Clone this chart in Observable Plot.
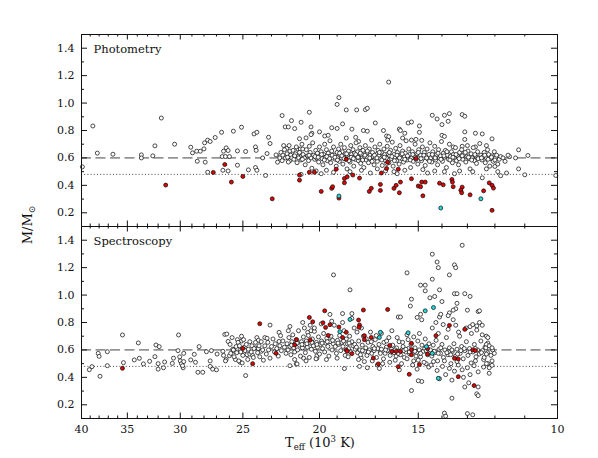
<!DOCTYPE html>
<html><head><meta charset="utf-8">
<script src="https://cdn.jsdelivr.net/npm/d3@7"></script>
<script src="https://cdn.jsdelivr.net/npm/@observablehq/plot@0.6"></script>
<style>body{margin:0;background:#fff;}</style>
</head><body><div id="chart"></div>
<script>
// ---------- data (T_eff in 10^3 K, mass in solar masses) ----------
const panels = ["Photometry", "Spectroscopy"];
const dashedLevel = 0.6;
const dottedLevel = 0.48;
const xMajorTicks = [40, 35, 30, 25, 20, 15, 10];
const xMinorTicks = [39,38,37,36,34,33,32,31,29,28,27,26,24,23,22,21,19,18,17,16,14,13,12,11];
const yMajorTicks = [0.2, 0.4, 0.6, 0.8, 1.0, 1.2, 1.4];
const yMinorTicks = [0.1, 0.3, 0.5, 0.7, 0.9, 1.1, 1.3, 1.5];

const photometryWhite = [
[39.9,0.535],[38.7,0.833],[38.2,0.635],[36.5,0.627],[33.6,0.622],[33.6,0.60],[32.5,0.615],[32.3,0.688],[31.7,0.891],[30.5,0.70],
[29.1,0.678],[28.95,0.637],[28.6,0.649],[28.3,0.649],[28.0,0.666],[27.95,0.71],[27.7,0.73],[27.5,0.72],[28.55,0.576],[27.9,0.569],
[27.7,0.496],[27.1,0.749],[26.6,0.787],[26.5,0.51],[26.1,0.505],[26.55,0.61],[26.3,0.61],[26.0,0.61],[26.45,0.649],[26.25,0.673],
[26.1,0.654],[25.7,0.795],[25.4,0.651],[25.4,0.547],[25.1,0.824],[24.6,0.513],[24.8,0.647],[24.2,0.775],[24.0,0.787],[24.1,0.68],
[24.05,0.655],[24.1,0.53],[24.0,0.51],[23.6,0.60],[23.3,0.632],[23.2,0.751],[23.1,0.705],[23.4,0.472],[22.7,0.622],[22.4,0.622],
[22.6,0.569],[22.3,0.909],[21.7,0.872],[22.1,0.826],[21.9,0.826],[22.2,0.69],[22.0,0.67],[21.8,0.65],[21.8,0.61],[21.8,0.58],
[21.5,0.814],[21.3,0.665],[21.15,0.665],[21.0,0.665],[21.3,0.61],[21.1,0.61],[20.95,0.615],[21.1,0.86],[21.2,0.74],[20.8,0.746],
[21.1,0.48],[20.6,0.933],[20.5,0.826],[20.45,0.78],[20.5,0.77],[20.0,0.79],[19.7,0.76],[19.5,0.765],[19.3,0.82],[19.0,0.815],
[19.0,0.99],[18.9,1.04],[18.7,0.848],[18.5,0.95],[18.2,0.81],[17.95,0.95],[16.35,1.153],[17.5,0.952],[17.4,0.962],[17.0,0.855],
[15.45,0.855],[15.3,0.862],[14.95,0.833],[14.4,0.911],[14.2,0.884],[14.0,0.843],[13.9,0.911],[13.7,0.923],[13.75,0.867],[13.2,0.916],
[13.1,0.904],[15.85,0.81],[15.8,0.80],[16.6,0.80],[17.6,0.80],[17.4,0.795],[14.95,0.787],[13.1,0.79],[12.7,0.78],[12.45,0.775],
[16.45,0.76],[16.35,0.755],[16.4,0.73],[15.7,0.745],[15.6,0.78],[15.3,0.73],[15.1,0.735],[14.85,0.728],[14.0,0.765],[13.9,0.757],
[13.55,0.68],[13.2,0.685],[13.0,0.69],[12.7,0.68],[12.3,0.69],[18.0,0.75],[17.85,0.72],[12.45,0.455],
[11.2,0.659],[11.5,0.61],[11.3,0.60],[10.9,0.618],[11.9,0.50],[11.8,0.47],[11.6,0.49],[11.0,0.477],[11.2,0.52],[10.05,0.472],[12.1,0.739],[12.0,0.538],
[22.45,0.60],[22.38,0.64],[22.3,0.58],[22.25,0.62],[22.15,0.66],[22.08,0.60],[21.98,0.63],[21.9,0.57],[21.85,0.69],[21.75,0.62],
[21.68,0.60],[21.6,0.655],[21.55,0.59],[21.45,0.63],[21.4,0.68],[21.35,0.565],[21.25,0.6],[21.2,0.64],[21.1,0.585],[21.05,0.70],
[20.98,0.625],[20.9,0.60],[20.85,0.55],[20.78,0.66],[20.7,0.615],[20.65,0.58],[20.6,0.685],[20.55,0.64],[20.5,0.60],[20.45,0.525],
[20.4,0.71],[20.35,0.62],
[20.28,0.59],[20.22,0.655],[20.18,0.60],[20.12,0.635],[20.05,0.57],[20.0,0.68],[19.95,0.61],[19.9,0.645],[19.85,0.595],[19.8,0.55],
[19.76,0.625],[19.7,0.70],[19.66,0.605],[19.6,0.66],[19.55,0.58],[19.5,0.635],[19.45,0.61],[19.4,0.725],[19.36,0.565],[19.3,0.65],
[19.26,0.60],[19.2,0.68],[19.15,0.62],[19.1,0.59],[19.05,0.54],[19.0,0.64],[18.96,0.605],[18.92,0.665],[18.88,0.575],[18.84,0.62],
[18.8,0.70],[18.76,0.60],[18.72,0.645],[18.68,0.555],[18.64,0.61],[18.6,0.675],[18.56,0.63],[18.52,0.59],[18.5,0.745],[18.46,0.52],
[18.42,0.615],[18.38,0.65],[18.34,0.60],[18.3,0.57],[18.26,0.69],[18.22,0.625],[18.18,0.605],[18.14,0.66],[18.1,0.54],[18.06,0.635],
[18.02,0.59],[17.98,0.71],[17.94,0.615],[17.9,0.645],[17.86,0.58],[17.82,0.60],[17.78,0.675],[17.74,0.56],[17.7,0.625],[17.66,0.60],
[17.62,0.655],[17.58,0.53],[17.54,0.61],[17.5,0.69],[17.46,0.585],[17.42,0.635],[17.38,0.605],[17.34,0.565],[17.3,0.665],[17.26,0.62],
[17.22,0.595],[17.18,0.73],[17.14,0.64],[17.1,0.61],[17.06,0.55],[17.02,0.68],[16.98,0.60],[16.94,0.625],[16.9,0.575],[16.86,0.655],
[16.82,0.615],[16.78,0.70],[16.74,0.595],[16.7,0.64],[16.66,0.545],[16.62,0.61],[16.58,0.665],[16.54,0.625],[16.5,0.58],
[16.46,0.60],[16.42,0.685],[16.38,0.63],[16.34,0.565],[16.3,0.615],[16.26,0.655],[16.22,0.595],[16.18,0.715],[16.14,0.54],[16.1,0.625],
[16.06,0.60],[16.02,0.67],[15.98,0.58],[15.94,0.64],[15.9,0.61],[15.86,0.555],[15.82,0.69],[15.78,0.62],[15.74,0.595],[15.7,0.65],
[15.66,0.57],[15.62,0.61],[15.58,0.635],[15.54,0.725],[15.5,0.585],[15.46,0.605],[15.42,0.665],[15.38,0.625],[15.34,0.53],[15.3,0.60],
[15.26,0.645],[15.22,0.575],[15.18,0.615],[15.14,0.70],[15.1,0.59],[15.06,0.63],[15.02,0.555],[14.98,0.66],[14.94,0.605],[14.9,0.62],
[14.86,0.58],[14.82,0.68],[14.78,0.60],[14.74,0.64],[14.7,0.545],[14.66,0.615],[14.62,0.665],[14.58,0.59],[14.54,0.625],[14.5,0.71],
[14.46,0.60],[14.42,0.57],[14.38,0.645],[14.34,0.61],[14.3,0.685],[14.26,0.585],[14.22,0.625],[14.18,0.55],[14.14,0.66],[14.1,0.60],
[14.06,0.615],[14.02,0.72],[13.98,0.575],[13.94,0.635],[13.9,0.605],[13.86,0.655],[13.82,0.53],[13.78,0.62],[13.74,0.59],[13.7,0.70],
[13.66,0.61],[13.62,0.645],[13.58,0.565],[13.54,0.625],[13.5,0.60],[13.46,0.675],[13.42,0.58],[13.38,0.615],[13.34,0.55],[13.3,0.64],
[13.26,0.605],[13.22,0.66],[13.18,0.59],[13.14,0.625],[13.1,0.735],[13.06,0.57],[13.02,0.61],[12.98,0.65],[12.94,0.595],[12.9,0.52],
[12.86,0.63],[12.82,0.60],[12.78,0.675],[12.74,0.58],[12.7,0.615],[12.66,0.56],[12.62,0.645],[12.58,0.60],[12.54,0.705],[12.5,0.62],
[12.46,0.585],[12.42,0.61],[12.38,0.64],[12.34,0.565],[12.3,0.60],[12.26,0.66],[12.22,0.625],[12.18,0.54],[12.14,0.595],[12.1,0.615],
[12.06,0.575],[12.02,0.645],[11.98,0.60],[11.94,0.62],[11.9,0.555],[11.85,0.59],[11.8,0.61],[11.72,0.60],[11.65,0.575],[11.55,0.62],
[21.95,0.605],[21.5,0.615],[21.02,0.59],[20.62,0.62],[20.26,0.61],[20.08,0.605],[19.88,0.625],[19.72,0.585],[19.58,0.61],[19.42,0.595],
[19.28,0.62],[19.12,0.605],[18.98,0.585],[18.86,0.635],[18.74,0.615],[18.62,0.595],[18.48,0.63],[18.36,0.58],[18.24,0.605],[18.12,0.595],
[18.0,0.625],[17.88,0.605],[17.76,0.635],[17.64,0.585],[17.52,0.62],[17.4,0.65],[17.28,0.60],[17.16,0.575],[17.04,0.62],[16.92,0.60],
[16.8,0.64],[16.68,0.585],[16.56,0.605],[16.44,0.56],[16.32,0.64],[16.2,0.61],[16.08,0.58],[15.96,0.62],[15.84,0.60],[15.72,0.63],
[15.6,0.59],[15.48,0.615],[15.36,0.585],[15.24,0.625],[15.12,0.605],[15.0,0.64],[14.88,0.595],[14.76,0.62],[14.64,0.60],[14.52,0.575],
[14.4,0.625],[14.28,0.60],[14.16,0.635],[14.04,0.59],[13.92,0.615],[13.8,0.645],[13.68,0.585],[13.56,0.605],[13.44,0.625],[13.32,0.595],
[13.2,0.615],[13.08,0.64],[12.96,0.605],[12.84,0.585],[12.72,0.625],[12.6,0.595],[12.48,0.60],[12.36,0.62],[12.24,0.59],[12.12,0.605],[12.0,0.585],
[20.2,0.505],[19.6,0.51],[19.2,0.495],[18.3,0.50],[17.7,0.51],[16.9,0.52],[16.1,0.50],[15.6,0.51],[14.8,0.515],[14.3,0.505],
[13.9,0.50],[13.3,0.505],[12.8,0.50],[12.3,0.52],[17.25,0.49],[15.95,0.485],[14.6,0.49],[13.5,0.485],[16.5,0.505],[19.9,0.485]
];
const photometryRed = [
[31.3,0.402],[27.25,0.494],[26.35,0.552],[25.85,0.424],[25.0,0.465],[22.95,0.302],[21.2,0.475],[21.2,0.438],[20.6,0.496],[20.3,0.496],
[19.9,0.356],[19.3,0.378],[19.25,0.39],[18.9,0.307],[19.05,0.518],[18.6,0.419],[18.6,0.45],[18.45,0.462],[18.15,0.475],[18.5,0.59],
[17.8,0.453],[17.3,0.356],[17.2,0.378],[16.75,0.407],[16.75,0.363],[16.7,0.49],[16.45,0.523],[16.4,0.569],[16.1,0.378],[16.0,0.40],
[15.85,0.346],[15.8,0.424],[15.9,0.518],[15.3,0.448],[15.1,0.596],[15.0,0.395],[14.9,0.39],[14.85,0.424],[14.7,0.424],[14.8,0.324],
[14.1,0.416],[13.95,0.404],[13.6,0.443],[13.58,0.424],[13.55,0.39],[13.2,0.387],[13.25,0.365],[13.22,0.346],[12.9,0.331],[12.4,0.36],
[12.2,0.418],[12.1,0.40],[12.05,0.38],[12.1,0.218]
];
const photometryCyan = [[18.9,0.322],[14.05,0.235],[12.5,0.302]];

const spectroscopyWhite = [
[39.1,0.456],[38.8,0.478],[38.1,0.575],[38.0,0.553],[37.9,0.408],[37.1,0.587],[37.1,0.485],[35.5,0.709],[35.4,0.507],[34.3,0.527],
[33.8,0.539],[33.9,0.651],[33.4,0.498],[32.8,0.517],[32.3,0.551],[32.2,0.636],[31.9,0.624],[32.0,0.50],[32.0,0.46],[31.5,0.47],
[31.4,0.512],[30.7,0.502],[30.6,0.54],[30.15,0.709],[30.2,0.595],[30.05,0.55],[29.7,0.575],[30.0,0.52],[29.9,0.50],[29.7,0.515],
[29.75,0.47],[29.8,0.485],[29.1,0.527],[28.8,0.568],[28.7,0.51],[28.4,0.624],[28.5,0.437],[28.1,0.437],[27.8,0.587],[27.5,0.52],
[27.5,0.48],[27.3,0.46],[27.0,0.455],[27.4,0.595],[26.95,0.57],[26.5,0.59],[26.45,0.56],[26.25,0.53],[26.3,0.52],[26.35,0.713],
[26.1,0.662],[26.2,0.716],[26.0,0.558],[25.4,0.675],[25.1,0.665],[24.95,0.675],[25.2,0.60],[25.05,0.60],[25.55,0.53],[25.2,0.51],
[25.05,0.505],[25.75,0.605],[25.6,0.59],[24.7,0.565],[24.5,0.57],[24.3,0.56],[24.0,0.69],[23.9,0.67],[23.45,0.69],[23.3,0.685],
[23.1,0.781],[24.1,0.615],[23.9,0.61],[23.7,0.59],[24.8,0.413],[22.5,0.728],[22.4,0.704],[22.5,0.662],[21.8,0.771],[21.0,0.80],
[21.8,0.485],[21.4,0.498],[21.35,0.498],[20.15,0.54],[20.15,0.557],[20.95,0.54],[20.7,0.728],[20.5,0.74],[20.3,0.735],
[19.2,1.147],[18.3,1.038],[19.4,0.859],[18.7,0.865],[18.2,0.865],[18.6,0.464],[17.8,0.48],
[13.2,1.363],[14.4,1.298],[14.2,1.241],[14.15,1.20],[13.5,1.22],[13.45,1.20],[15.5,1.162],[13.7,1.147],[14.4,1.116],[14.9,1.072],
[14.7,1.072],[14.7,1.031],[14.1,1.038],[13.5,1.01],[13.4,1.01],[13.1,1.01],[12.9,0.99],[14.5,0.98],[14.3,0.99],[15.3,0.97],
[15.35,0.92],[14.0,0.953],[13.4,0.94],[13.45,0.90],[13.55,0.89],[13.0,0.89],[12.6,0.88],[13.7,0.87],[13.75,0.85],[14.1,0.84],
[14.05,0.86],[15.05,0.837],[14.9,0.86],[14.85,0.82],[15.9,0.84],[15.8,0.84],[12.55,0.80],[12.45,0.78],[12.9,0.77],[12.8,0.785],
[12.65,0.775],[12.55,0.885],[13.6,0.248],[13.9,0.139],[13.85,0.117],[13.0,0.136],[12.8,0.127],[15.3,0.304],[14.85,0.37],[15.0,0.375],
[13.1,0.33],[12.6,0.33],[12.65,0.28],[12.6,0.267],[12.2,0.43],[12.2,0.47],[12.4,0.53],[12.25,0.50],[12.1,0.52],[12.35,0.62],
[12.25,0.65],[12.3,0.64],[12.1,0.488],[12.3,0.70],
[25.95,0.64],[25.9,0.575],[25.8,0.69],[25.7,0.60],[25.65,0.55],[25.5,0.625],[25.45,0.58],[25.35,0.655],[25.3,0.52],[25.25,0.63],
[25.15,0.585],[25.1,0.70],[25.0,0.56],[24.9,0.62],[24.85,0.595],[24.75,0.64],[24.65,0.53],[24.6,0.605],[24.5,0.66],[24.4,0.585],
[24.35,0.63],[24.25,0.545],[24.2,0.61],[24.1,0.655],[23.95,0.58],[23.85,0.63],[23.8,0.55],[23.7,0.66],[23.6,0.60],[23.55,0.525],
[23.45,0.63],[23.35,0.57],[23.25,0.655],[23.2,0.60],[23.1,0.54],[23.0,0.625],[22.9,0.68],[22.8,0.585],[22.75,0.645],[22.65,0.61],
[22.55,0.555],[22.45,0.63],[22.35,0.595],[22.25,0.665],[22.15,0.62],[22.05,0.575],
[21.98,0.645],[21.92,0.60],[21.86,0.69],[21.8,0.625],[21.74,0.565],[21.68,0.66],[21.62,0.71],[21.56,0.615],[21.5,0.585],[21.44,0.645],
[21.38,0.675],[21.32,0.60],[21.26,0.74],[21.2,0.635],[21.14,0.555],[21.08,0.66],[21.02,0.615],[20.96,0.695],[20.9,0.64],[20.84,0.58],
[20.78,0.665],[20.72,0.62],[20.66,0.705],[20.6,0.545],[20.54,0.65],[20.48,0.605],[20.42,0.68],[20.36,0.63],[20.3,0.76],[20.24,0.59],
[20.18,0.655],[20.12,0.62],[20.06,0.695],[20.0,0.57],[19.94,0.64],[19.88,0.665],[19.82,0.61],[19.76,0.72],[19.7,0.585],[19.64,0.65],
[19.58,0.685],[19.52,0.625],[19.46,0.555],[19.4,0.66],[19.34,0.70],[19.28,0.60],[19.22,0.645],[19.16,0.78],[19.1,0.625],[19.04,0.575],
[18.98,0.67],[18.92,0.64],[18.86,0.705],[18.8,0.595],[18.74,0.655],[18.68,0.625],[18.62,0.74],[18.56,0.56],[18.5,0.68],[18.44,0.645],
[18.38,0.61],[18.32,0.70],[18.26,0.585],[18.2,0.66],[18.14,0.63],[18.08,0.76],[18.02,0.605],
[21.7,0.635],[21.35,0.65],[21.05,0.64],[20.75,0.645],[20.45,0.655],[20.15,0.64],[19.85,0.65],[19.55,0.66],[19.25,0.67],[18.95,0.65],
[18.65,0.665],[18.35,0.65],[18.05,0.64],[21.5,0.53],[20.8,0.52],[20.2,0.535],[19.6,0.53],[19.0,0.54],[18.4,0.55],[20.9,0.76],
[19.9,0.79],[19.3,0.81],[18.7,0.80],[18.2,0.83],[21.9,0.74],[20.55,0.78],
[17.96,0.62],[17.9,0.58],[17.84,0.665],[17.78,0.60],[17.72,0.545],[17.66,0.635],[17.6,0.70],[17.54,0.59],[17.48,0.615],[17.42,0.56],
[17.36,0.655],[17.3,0.60],[17.24,0.73],[17.18,0.575],[17.12,0.625],[17.06,0.595],[17.0,0.675],[16.94,0.545],[16.88,0.61],[16.82,0.64],
[16.76,0.585],[16.7,0.605],[16.64,0.50],[16.58,0.655],[16.52,0.575],[16.46,0.62],[16.4,0.595],[16.34,0.69],[16.28,0.56],[16.22,0.605],
[16.16,0.635],[16.1,0.58],[16.04,0.525],[15.98,0.615],[15.92,0.59],[15.86,0.66],[15.8,0.565],[15.74,0.60],[15.68,0.625],[15.62,0.545],
[15.56,0.585],[15.5,0.71],[15.44,0.61],[15.38,0.57],[15.32,0.64],[15.26,0.595],[15.2,0.52],[15.14,0.615],[15.08,0.58],[15.02,0.665],
[14.96,0.60],[14.9,0.55],[14.84,0.635],[14.78,0.59],[14.72,0.61],[14.66,0.50],[14.6,0.565],[14.54,0.645],
[17.93,0.73],[17.7,0.76],[17.45,0.68],[17.2,0.66],[16.95,0.705],[16.7,0.72],[16.45,0.665],[16.2,0.74],[15.95,0.69],[15.7,0.655],
[15.45,0.675],[15.2,0.695],[14.95,0.72],[14.7,0.68],
[17.85,0.53],[17.55,0.515],[17.15,0.52],[16.9,0.49],[16.6,0.535],[16.3,0.51],[16.0,0.555],[15.75,0.50],[15.5,0.535],[15.25,0.49],
[15.0,0.525],[14.75,0.51],[14.55,0.475],[16.8,0.465],[15.85,0.455],[15.05,0.46],[17.4,0.47],
[17.65,0.595],[17.35,0.585],[17.05,0.61],[16.75,0.575],[16.5,0.60],[16.25,0.585],[15.9,0.575],[15.65,0.595],[15.4,0.585],[15.15,0.59],
[14.9,0.575],[14.65,0.595],[16.05,0.60],[15.55,0.605],[15.1,0.555],[17.75,0.565],
[14.48,0.60],[14.42,0.555],[14.36,0.635],[14.3,0.58],[14.24,0.67],[14.18,0.52],[14.12,0.605],[14.06,0.575],[14.0,0.64],[13.94,0.545],
[13.88,0.60],[13.82,0.69],[13.76,0.565],[13.7,0.615],[13.64,0.50],[13.58,0.59],[13.52,0.645],[13.46,0.555],[13.4,0.605],[13.34,0.73],
[13.28,0.575],[13.22,0.625],[13.16,0.535],[13.1,0.595],[13.04,0.66],[12.98,0.56],[12.92,0.61],[12.86,0.505],[12.8,0.585],[12.74,0.64],
[12.68,0.55],[12.62,0.60],[12.56,0.57],[12.5,0.665],[12.44,0.595],[12.38,0.545],[12.32,0.615],[12.26,0.58],[12.2,0.63],[12.14,0.56],
[12.08,0.60],[12.02,0.575],
[14.4,0.76],[14.15,0.72],[13.95,0.785],[13.75,0.75],[13.55,0.82],[13.3,0.70],[13.05,0.76],[12.85,0.72],[12.65,0.745],[12.45,0.71],
[12.25,0.69],[14.25,0.80],[13.45,0.78],
[14.45,0.49],[14.2,0.45],[13.98,0.48],[13.85,0.42],[13.7,0.465],[13.5,0.445],[13.35,0.49],[13.2,0.455],[13.0,0.47],[12.9,0.42],
[12.75,0.485],[12.6,0.44],[12.4,0.475],[12.3,0.50],[14.1,0.39],[13.6,0.38],[13.15,0.40],[12.95,0.36],[14.35,0.515],[13.9,0.52],
[13.4,0.515],[12.7,0.52],
[14.32,0.59],[14.05,0.615],[13.8,0.58],[13.6,0.60],[13.38,0.57],[13.12,0.61],[12.9,0.585],[12.7,0.61],[12.48,0.58],[12.3,0.57],
[12.1,0.615],[13.25,0.595],[13.65,0.565],[14.15,0.575]
];
const spectroscopyRed = [
[35.5,0.466],[25.0,0.611],[24.3,0.50],[23.8,0.791],[22.7,0.575],[21.5,0.636],[21.4,0.675],[20.6,0.837],[20.4,0.805],[20.55,0.672],
[19.7,0.885],[19.8,0.798],[19.4,0.784],[19.65,0.764],[19.5,0.706],[18.9,0.767],[18.5,0.728],[18.7,0.691],[18.5,0.60],[18.45,0.59],
[18.2,0.573],[17.85,0.818],[17.8,0.782],[17.82,0.765],[17.6,0.891],[16.4,0.895],[17.55,0.704],[17.55,0.675],[17.2,0.691],[16.3,0.633],
[16.2,0.589],[16.0,0.589],[15.8,0.589],[15.3,0.648],[15.3,0.602],[15.3,0.565],[14.6,0.609],[14.6,0.57],[14.25,0.704],[13.7,0.779],
[13.1,0.75],[12.8,0.60],[12.7,0.595],[13.5,0.539],[13.35,0.534],[17.1,0.541],[16.85,0.498],[15.9,0.478],[14.95,0.493],[15.4,0.422],
[13.35,0.405],[12.75,0.34]
];
const spectroscopyCyan = [
[18.85,0.733],[18.3,0.822],[14.35,0.909],[14.7,0.885],[16.75,0.728],[16.8,0.691],[15.45,0.725],[14.65,0.624],[14.4,0.575],[14.15,0.393]
];

// ---------- build tables ----------
const rows = (pairs, panel) => pairs.map(([T, M]) => ({panel, T, M}));
const white = [...rows(photometryWhite, panels[0]), ...rows(spectroscopyWhite, panels[1])];
const red = [...rows(photometryRed, panels[0]), ...rows(spectroscopyRed, panels[1])];
const cyan = [...rows(photometryCyan, panels[0]), ...rows(spectroscopyCyan, panels[1])];

const W = 598, H = 458, ML = 81, MR = 41, MT = 33, MB = 40;
const FW = W - ML - MR, FH = (H - MT - MB) / 2;
const ink = "#111";
const dotOpts = {x: "T", y: "M", fy: "panel", r: 2, stroke: ink, strokeWidth: 0.75};

const chart = Plot.plot({
  width: W, height: H,
  marginLeft: ML, marginRight: MR, marginTop: MT, marginBottom: MB,
  style: {fontFamily: "DejaVu Serif", fontSize: "11px", background: "white", color: ink},
  x: {type: "log", domain: [40, 10]},
  y: {domain: [0.1, 1.5]},
  fy: {domain: panels, padding: 0, axis: null},
  marks: [
    Plot.ruleY([dashedLevel], {stroke: "#444", strokeWidth: 1, strokeDasharray: "10,4.5"}),
    Plot.ruleY([dottedLevel], {stroke: "#444", strokeWidth: 1, strokeDasharray: "1,2.2"}),
    Plot.dot(white, {...dotOpts, fill: "white"}),
    Plot.dot(red, {...dotOpts, fill: "#e00000"}),
    Plot.dot(cyan, {...dotOpts, fill: "#22dada"}),
    Plot.frame({stroke: ink, strokeWidth: 1}),
    // inward ticks on all four sides
    Plot.tickX(xMajorTicks, {x: d => d, stroke: ink, insetTop: FH - 6}),
    Plot.tickX(xMajorTicks, {x: d => d, stroke: ink, insetBottom: FH - 6}),
    Plot.tickX(xMinorTicks, {x: d => d, stroke: ink, insetTop: FH - 3}),
    Plot.tickX(xMinorTicks, {x: d => d, stroke: ink, insetBottom: FH - 3}),
    Plot.tickY(yMajorTicks, {y: d => d, stroke: ink, insetRight: FW - 6}),
    Plot.tickY(yMajorTicks, {y: d => d, stroke: ink, insetLeft: FW - 6}),
    Plot.tickY(yMinorTicks, {y: d => d, stroke: ink, insetRight: FW - 3}),
    Plot.tickY(yMinorTicks, {y: d => d, stroke: ink, insetLeft: FW - 3}),
    Plot.axisX({ticks: xMajorTicks, tickSize: 0, tickPadding: 7, tickFormat: d => String(d), label: null}),
    Plot.axisY({ticks: yMajorTicks, tickSize: 0, tickPadding: 7, tickFormat: d => d.toFixed(1), label: null}),
    Plot.text(panels, {fy: d => d, text: d => d, frameAnchor: "top-left", dx: 12, dy: 15,
      textAnchor: "start", lineAnchor: "middle", fontSize: 11.5, fill: ink})
  ]
});
document.getElementById("chart").appendChild(chart);

// axis titles with sub/superscripts
const svg = d3.select(chart);
const yl = svg.append("text")
  .attr("transform", "translate(32,225) rotate(-90)")
  .attr("text-anchor", "middle").attr("font-family", "DejaVu Serif").attr("font-size", 13).attr("fill", ink);
yl.append("tspan").text("M/M");
yl.append("tspan").attr("dy", 3).attr("font-size", 9).text("⊙");

const xl = svg.append("text")
  .attr("x", 320).attr("y", 447)
  .attr("text-anchor", "middle").attr("font-family", "DejaVu Serif").attr("font-size", 13).attr("fill", ink);
xl.append("tspan").text("T");
xl.append("tspan").attr("dy", 3).attr("font-size", 8.5).text("eff");
xl.append("tspan").attr("dy", -3).text(" (10");
xl.append("tspan").attr("dy", -5).attr("font-size", 8.5).text("3");
xl.append("tspan").attr("dy", 5).text(" K)");
</script></body></html>
